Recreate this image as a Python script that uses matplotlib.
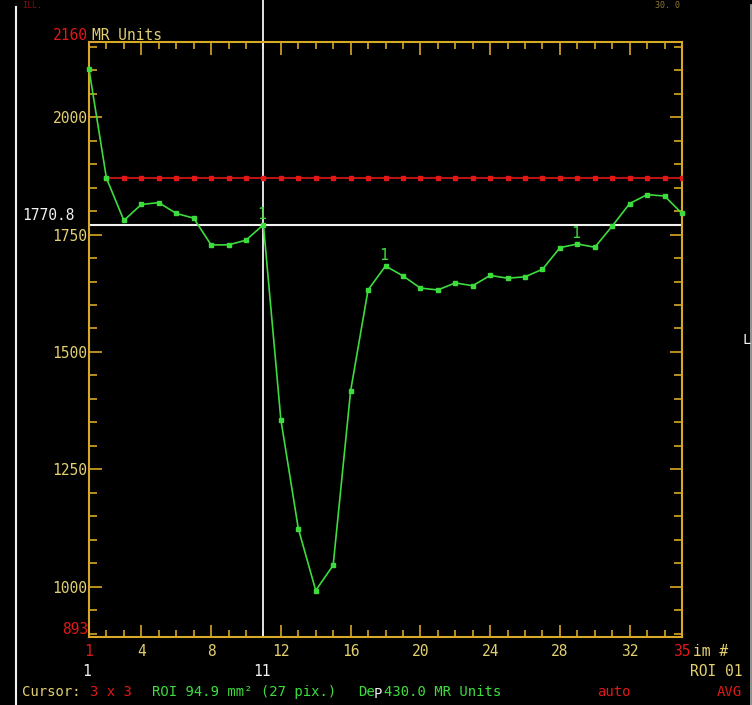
import matplotlib
matplotlib.use('Agg')
import matplotlib.pyplot as plt
from matplotlib.lines import Line2D
from matplotlib.ticker import MultipleLocator

# signal intensity per image (MR units)
images = list(range(1, 36))
signal = [2102, 1870, 1780, 1814, 1818, 1795, 1785, 1728, 1728, 1738,
          1771, 1356, 1124, 992, 1046, 1417, 1632, 1683, 1662, 1636,
          1632, 1647, 1641, 1663, 1657, 1660, 1676, 1722, 1730, 1723,
          1768, 1816, 1835, 1832, 1795]
ref_images = images[1:]
ref_level = [1870] * len(ref_images)
cursor_image = 11
cursor_value = 1770.8
marked_images = [11, 18, 29]
y_min, y_max = 893, 2160
x_min, x_max = 1, 35
y_ticks = [1000, 1250, 1500, 1750, 2000]
x_ticks = [1, 4, 8, 12, 16, 20, 24, 28, 32, 35]

GOLD = '#d9a826'
YEL = '#e2d070'
GREEN = '#3ddc3d'
RED = '#e01818'
WHITE = '#f2f2f2'
FONT = 'DejaVu Sans Mono'
FS = 10

W, H = 752, 705
plt.rcParams['font.family'] = FONT
fig = plt.figure(figsize=(W / 100, H / 100), dpi=100, facecolor='black')
ax = fig.add_axes([89 / W, 1 - 637 / H, (682 - 89) / W, (637 - 42) / H])
ax.set_facecolor('black')


def ftext(x, y, s, color, ha='left', va='center', size=FS, **kw):
    fig.text(x / W, 1 - y / H, s, color=color, ha=ha, va=va,
             fontsize=size, family=FONT, **kw)


# reference level (red) and signal curve (green)
ax.plot(ref_images, ref_level, color=RED, lw=1.2, marker='s', ms=3,
        mec=RED, mfc=RED, zorder=3)
ax.plot(images, signal, color=GREEN, lw=1.2, marker='s', ms=3,
        mec=GREEN, mfc=GREEN, zorder=4, clip_on=False)

# cursor lines
ax.axhline(cursor_value, color=WHITE, lw=1.5, zorder=2)
ax.axvline(cursor_image, ymin=0, ymax=1 + 42 / 595, color=WHITE, lw=1.3,
           zorder=2, clip_on=False)

for im in marked_images:
    v = signal[images.index(im)]
    ax.annotate('1', (im, v), xytext=(-1, 2), textcoords='offset points',
                color=GREEN, fontsize=FS + 1, ha='center', va='bottom',
                family=FONT)

ax.set_xlim(x_min, x_max)
ax.set_ylim(y_min, y_max)
for sp in ax.spines.values():
    sp.set_color(GOLD)
    sp.set_linewidth(1.5)

ax.set_yticks(y_ticks)
ax.yaxis.set_minor_locator(MultipleLocator(50))
ax.set_xticks(x_ticks)
ax.set_xticklabels([str(t) for t in x_ticks])
ax.xaxis.set_minor_locator(MultipleLocator(1))
ax.tick_params(axis='both', which='both', direction='in', color=GOLD,
               top=True, right=True, labelcolor=YEL, labelsize=FS + 0.5)
ax.tick_params(axis='y', which='major', length=9, width=1.2, pad=1)
ax.tick_params(axis='y', which='minor', length=6, width=1.2)
ax.tick_params(axis='x', which='major', length=9, width=1.2, pad=5)
ax.tick_params(axis='x', which='minor', length=5, width=1.2)
for lab, t in zip(ax.get_xticklabels(), x_ticks):
    if t in (x_min, x_max):
        lab.set_color(RED)

# screen borders
fig.add_artist(Line2D([16 / W, 16 / W], [0, 1 - 7 / H], color=WHITE, lw=1.5))
fig.add_artist(Line2D([751 / W, 751 / W], [0, 1 - 5 / H], color='#b0b0b0', lw=1.2))

# header / side texts
ftext(22, 1, 'ILL.', '#801010', va='top', size=6)
ftext(655, 1, '30. 0', '#8a7a30', va='top', size=6)
ftext(742, 340, 'L', WHITE)
ftext(88, 35, str(y_max), RED, ha='right', size=FS + 0.5)
ftext(92, 35, 'MR Units', YEL, size=FS + 0.5)
ftext(88, 630, str(y_min), RED, ha='right', size=FS + 0.5)
ftext(22, 215, '1770.8', WHITE, size=FS + 0.5)
ftext(693, 651, 'im #', YEL, size=FS + 0.5)

# footer rows
ftext(87, 672, '1', WHITE, ha='center', size=FS + 0.5)
ftext(262, 672, '11', WHITE, ha='center', size=FS + 0.5)
ftext(742, 672, 'ROI 01', YEL, ha='right', size=FS + 0.5)
ftext(22, 692, 'Cursor:', YEL)
ftext(90, 692, '3 x 3', RED)
ftext(152, 692, 'ROI 94.9 mm\u00b2 (27 pix.)', GREEN)
ftext(358, 692, 'De', GREEN)
ftext(374, 694, 'P', WHITE)
ftext(384, 692, '430.0 MR Units', GREEN)
ftext(597, 692, 'auto', RED)
ftext(742, 692, 'AVG', RED, ha='right')

fig.savefig('out.png', dpi=100, facecolor='black')
